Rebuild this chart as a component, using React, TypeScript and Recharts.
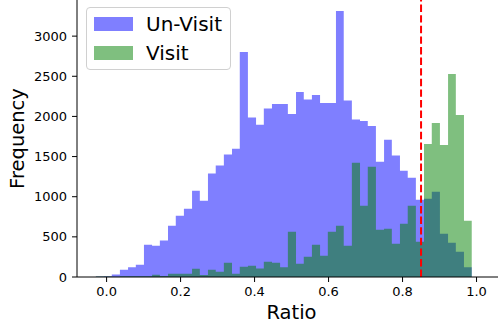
import { ComposedChart, Area, XAxis, YAxis, ReferenceLine, Legend } from "recharts"

document.body.style.margin = "0"

// left edges of the histogram bins, plus the closing right edge
const binEdges = [
  -0.029, -0.007, 0.014, 0.036, 0.058, 0.079, 0.101, 0.123, 0.144, 0.166, 0.187, 0.209,
  0.231, 0.252, 0.274, 0.295, 0.317, 0.339, 0.36, 0.382, 0.404, 0.425, 0.447, 0.469,
  0.49, 0.512, 0.533, 0.555, 0.577, 0.598, 0.62, 0.641, 0.663, 0.685, 0.706, 0.728,
  0.75, 0.771, 0.793, 0.814, 0.836, 0.858, 0.879, 0.901, 0.923, 0.944, 0.966, 0.987,
]

const unVisit = [
  5, 8, 30, 91, 120, 153, 402, 389, 455, 638, 763, 850,
  1074, 949, 1289, 1389, 1525, 1596, 2803, 1986, 1895, 2098, 2156, 2156,
  2031, 2305, 2210, 2268, 2168, 2168, 3313, 2197, 1961, 1944, 1882, 1434,
  1708, 1513, 1322, 1235, 962, 974, 1061, 539, 427, 315, 120,
]

const visit = [
  5, 5, 3, 8, 8, 8, 8, 29, 12, 41, 41, 41,
  103, 25, 91, 66, 178, 41, 128, 141, 107, 190, 178, 120,
  564, 165, 253, 402, 265, 564, 638, 389, 1422, 887, 1372, 588,
  601, 414, 663, 887, 439, 1658, 1919, 1645, 2529, 2019, 700,
]

const xTicks = [0, 0.2, 0.4, 0.6, 0.8, 1.0]
const yTicks = [0, 500, 1000, 1500, 2000, 2500, 3000]
const threshold = 0.85

const series = [
  { key: "unVisit", name: "Un-Visit", color: "#0000ff" },
  { key: "visit", name: "Visit", color: "#008000" },
]

// stepAfter needs one extra point at the last edge that closes the final bin
const data = binEdges.map((x, i) => ({
  x,
  unVisit: i < unVisit.length ? unVisit[i] : 0,
  visit: i < visit.length ? visit[i] : 0,
}))

const font = "'DejaVu Sans', sans-serif"

function HistLegend() {
  return (
    <div
      style={{
        width: 145,
        height: 63,
        boxSizing: "border-box",
        border: "1px solid #d0d0d0",
        borderRadius: 4,
        background: "rgba(255,255,255,0.8)",
        padding: "1px 0 0 7px",
        fontFamily: font,
      }}
    >
      {series.map((s) => (
        <div key={s.key} style={{ display: "flex", alignItems: "center", height: 29 }}>
          <span style={{ display: "inline-block", width: 39, height: 14, background: s.color, opacity: 0.5, marginRight: 13 }} />
          <span style={{ fontSize: 20, lineHeight: 1, color: "#000" }}>{s.name}</span>
        </div>
      ))}
    </div>
  )
}

export default function App() {
  return (
    <div style={{ width: 499, height: 333, fontFamily: font }}>
      <ComposedChart width={499} height={333} data={data} margin={{ top: 0, right: 1, bottom: 0, left: 0 }}>
        <XAxis
          dataKey="x"
          type="number"
          domain={[-0.08, 1.058]}
          allowDataOverflow
          ticks={xTicks}
          tickFormatter={(v: number) => v.toFixed(1)}
          height={56}
          tickSize={5}
          tickMargin={5}
          stroke="#000"
          tick={{ fill: "#000", fontSize: 13 }}
          label={{ value: "Ratio", position: "insideBottom", offset: 14, dx: 4, fill: "#000", fontSize: 19.5 }}
        />
        <YAxis
          type="number"
          domain={[0, 3450]}
          allowDataOverflow
          ticks={yTicks}
          width={77}
          tickSize={5}
          tickMargin={5}
          stroke="#000"
          tick={{ fill: "#000", fontSize: 13 }}
          label={{
            value: "Frequency",
            angle: -90,
            position: "insideLeft",
            offset: 17,
            fill: "#000",
            fontSize: 19.5,
            style: { textAnchor: "middle" },
          }}
        />
        {series.map((s) => (
          <Area
            key={s.key}
            dataKey={s.key}
            name={s.name}
            type="stepAfter"
            stroke="none"
            fill={s.color}
            fillOpacity={0.5}
            dot={false}
            activeDot={false}
            isAnimationActive={false}
          />
        ))}
        <ReferenceLine x={threshold} stroke="#ff0000" strokeWidth={2} strokeDasharray="7.4 3.2" />
        <Legend
          content={HistLegend}
          layout="horizontal"
          verticalAlign="middle"
          align="center"
          wrapperStyle={{ top: 7, left: 86, width: 145, height: 63 }}
        />
      </ComposedChart>
    </div>
  )
}
